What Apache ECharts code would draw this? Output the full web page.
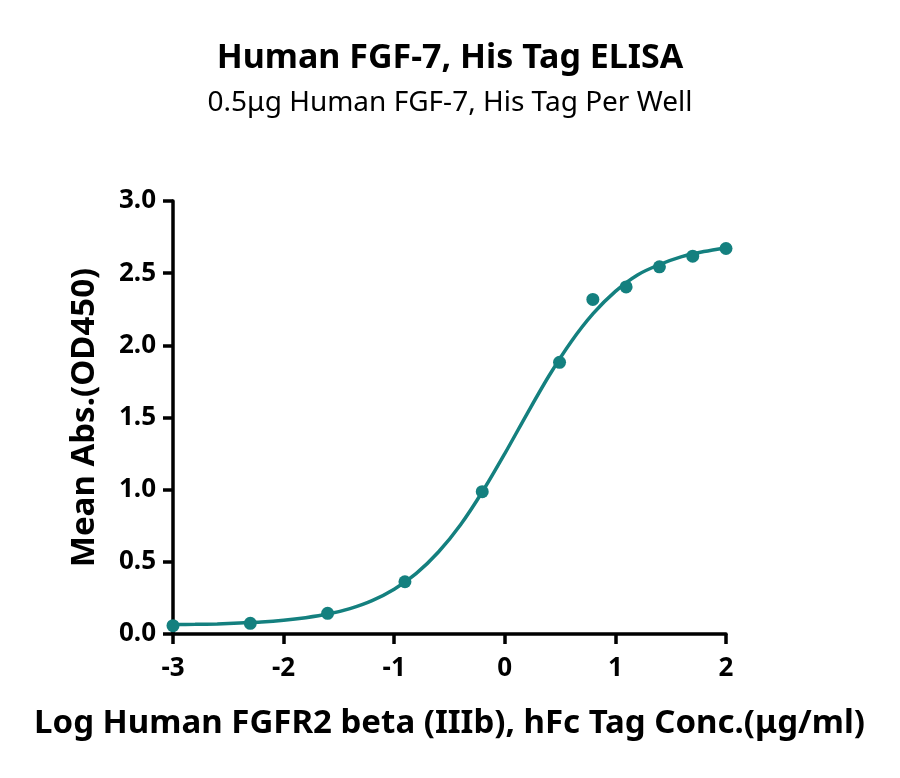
<!DOCTYPE html>
<html>
<head>
<meta charset="utf-8">
<script src="https://cdn.jsdelivr.net/npm/echarts@6/dist/echarts.min.js"></script>
<style>
  html, body { margin: 0; padding: 0; background: #fff; }
  #chart { width: 900px; height: 778px; }
</style>
</head>
<body>
<div id="chart"></div>
<script>
// measured points: log concentration vs mean OD450
const logConc = [-3.0, -2.301, -1.602, -0.903, -0.204, 0.495, 0.796, 1.097, 1.398, 1.699, 2.0];
const meanAbs = [0.058, 0.074, 0.143, 0.362, 0.986, 1.882, 2.318, 2.405, 2.544, 2.618, 2.671];

// fitted curve
const fitX = [-3.0, -2.8, -2.6, -2.4, -2.2, -2.0, -1.8, -1.6, -1.4, -1.2, -1.0, -0.8, -0.6,
  -0.4, -0.2, 0.0, 0.2, 0.4, 0.6, 0.8, 1.0, 1.2, 1.4, 1.6, 1.8, 2.0];
const fitY = [0.065, 0.067, 0.070, 0.076, 0.083, 0.095, 0.113, 0.138, 0.176, 0.231, 0.31, 0.42, 0.568,
  0.757, 0.989, 1.25, 1.524, 1.789, 2.025, 2.221, 2.374, 2.488, 2.56, 2.615, 2.65, 2.675];

const xTicks = [-3, -2, -1, 0, 1, 2];
const teal = '#14807f';
const font = 'Noto Sans';

const chart = echarts.init(document.getElementById('chart'));
chart.setOption({
  animation: false,
  title: [
    {
      text: 'Human FGF-7, His Tag ELISA',
      left: 'center', top: 36,
      textStyle: { fontFamily: font, fontWeight: 'bold', fontSize: 34, color: '#000' }
    },
    {
      text: '0.5μg Human FGF-7, His Tag Per Well',
      left: 'center', top: 84,
      textStyle: { fontFamily: font, fontWeight: 'normal', fontSize: 28, color: '#000' }
    }
  ],
  grid: { left: 173, right: 174, top: 201, bottom: 144 },
  xAxis: {
    type: 'value', min: -3, max: 2, interval: 1,
    name: 'Log Human FGFR2 beta (IIIb), hFc Tag Conc.(μg/ml)',
    nameLocation: 'middle', nameGap: 73,
    nameTextStyle: { fontFamily: font, fontWeight: 'bold', fontSize: 33, color: '#000' },
    axisLine: { onZero: false, lineStyle: { color: '#000', width: 3.5 } },
    axisTick: { length: 10, lineStyle: { color: '#000', width: 3.5 } },
    axisLabel: {
      margin: 22, fontFamily: font, fontWeight: 'bold', fontSize: 26, color: '#000',
      formatter: v => xTicks.includes(v) ? String(v) : ''
    },
    splitLine: { show: false }
  },
  yAxis: {
    type: 'value', min: 0, max: 3, interval: 0.5,
    name: 'Mean Abs.(OD450)',
    nameLocation: 'middle', nameGap: 72, nameRotate: 90,
    nameTextStyle: { fontFamily: font, fontWeight: 'bold', fontSize: 33, color: '#000' },
    axisLine: { show: true, onZero: false, lineStyle: { color: '#000', width: 3.5 } },
    axisTick: { show: true, length: 10, lineStyle: { color: '#000', width: 3.5 } },
    axisLabel: {
      margin: 17, fontFamily: font, fontWeight: 'bold', fontSize: 26, color: '#000',
      formatter: v => v.toFixed(1)
    },
    splitLine: { show: false }
  },
  series: [
    {
      type: 'line',
      data: fitX.map((x, i) => [x, fitY[i]]),
      smooth: 0.3,
      showSymbol: false,
      lineStyle: { color: teal, width: 3.5 },
      z: 2
    },
    {
      type: 'scatter',
      data: logConc.map((x, i) => [x, meanAbs[i]]),
      symbolSize: 13,
      itemStyle: { color: teal, opacity: 1 },
      z: 3
    }
  ]
});
</script>
</body>
</html>
